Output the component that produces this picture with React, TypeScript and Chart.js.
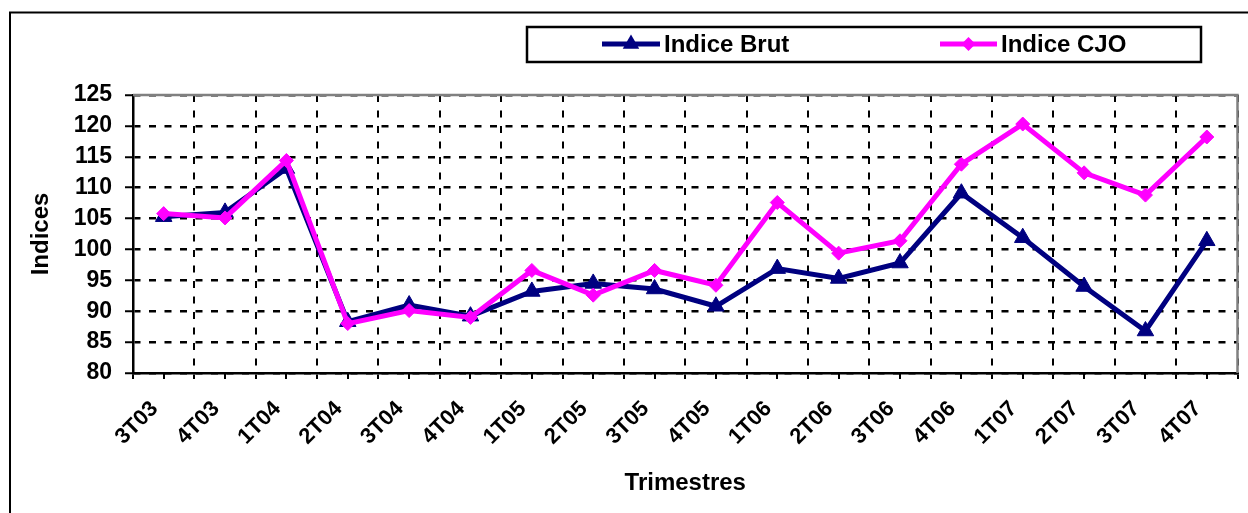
import React, { useEffect, useRef } from 'react';
import { Chart, registerables } from 'chart.js';

Chart.register(...registerables);

const categories = ['3T03', '4T03', '1T04', '2T04', '3T04', '4T04', '1T05', '2T05', '3T05', '4T05', '1T06', '2T06', '3T06', '4T06', '1T07', '2T07', '3T07', '4T07'];
const indiceBrut = [105.3, 106.0, 113.1, 88.3, 91.0, 89.2, 93.2, 94.5, 93.6, 90.8, 96.9, 95.3, 97.8, 109.1, 101.9, 94.0, 86.8, 101.4];
const indiceCJO = [105.8, 105.1, 114.4, 88.0, 90.1, 89.0, 96.6, 92.6, 96.6, 94.2, 107.6, 99.4, 101.4, 113.8, 120.3, 112.4, 108.8, 118.2];
const seriesLabels = ['Indice Brut', 'Indice CJO'];
const yMin = 80;
const yMax = 125;
const yStep = 5;
const xTitle = 'Trimestres';
const yTitle = 'Indices';

const FONT = "'Liberation Sans', Arial, sans-serif";
const NAVY = '#000080';
const MAGENTA = '#FF00FF';

const decorPlugin = {
  id: 'decor',
  beforeDraw(chart: any) {
    const ctx = chart.ctx;
    ctx.save();
    ctx.fillStyle = '#fff';
    ctx.fillRect(0, 0, chart.width, chart.height);
    ctx.restore();
  },
  beforeDatasetsDraw(chart: any) {
    const { ctx, chartArea: a } = chart;
    const xs = chart.scales.x;
    ctx.save();
    ctx.strokeStyle = '#808080';
    ctx.lineWidth = 2.5;
    ctx.beginPath();
    ctx.moveTo(a.left, a.top);
    ctx.lineTo(a.right, a.top);
    ctx.lineTo(a.right, a.bottom);
    ctx.stroke();
    ctx.strokeStyle = '#000';
    ctx.lineWidth = 2;
    ctx.beginPath();
    for (let i = 0; i < categories.length; i++) {
      const px = Math.round(xs.getPixelForValue(i));
      ctx.moveTo(px, a.bottom);
      ctx.lineTo(px, a.bottom + 6);
    }
    ctx.stroke();
    ctx.restore();
  },
  afterDraw(chart: any) {
    const ctx = chart.ctx;
    ctx.save();
    ctx.strokeStyle = '#000';
    ctx.lineWidth = 2;
    ctx.strokeRect(10, 12.5, 1300, 600);
    ctx.lineWidth = 2.5;
    ctx.strokeRect(527, 27, 674, 35);
    const items = [
      { x0: 602, x1: 660, tx: 664, ds: chart.data.datasets[1] },
      { x0: 940, x1: 997, tx: 1001, ds: chart.data.datasets[0] },
    ];
    const ly = 44;
    items.forEach((it) => {
      const ds = it.ds;
      ctx.strokeStyle = ds.borderColor;
      ctx.lineWidth = ds.borderWidth;
      ctx.beginPath();
      ctx.moveTo(it.x0, ly);
      ctx.lineTo(it.x1, ly);
      ctx.stroke();
      const cx = (it.x0 + it.x1) / 2;
      ctx.fillStyle = ds.pointBackgroundColor;
      ctx.beginPath();
      const r = ds.pointRadius;
      if (ds.pointStyle === 'triangle') {
        ctx.moveTo(cx, ly - r);
        ctx.lineTo(cx + r * 0.866, ly + r * 0.5);
        ctx.lineTo(cx - r * 0.866, ly + r * 0.5);
      } else {
        ctx.moveTo(cx, ly - r);
        ctx.lineTo(cx + r, ly);
        ctx.lineTo(cx, ly + r);
        ctx.lineTo(cx - r, ly);
      }
      ctx.closePath();
      ctx.fill();
      ctx.fillStyle = '#000';
      ctx.font = `bold 24px ${FONT}`;
      ctx.textAlign = 'left';
      ctx.textBaseline = 'middle';
      ctx.fillText(ds.label, it.tx, ly + 1);
    });
    ctx.restore();
  },
};

export default function App() {
  const ref = useRef<HTMLCanvasElement | null>(null);
  useEffect(() => {
    if (!ref.current) return;
    const chart = new Chart(ref.current, {
      type: 'line',
      data: {
        labels: categories,
        datasets: [
          {
            label: seriesLabels[1],
            data: indiceCJO,
            borderColor: MAGENTA,
            backgroundColor: MAGENTA,
            pointBackgroundColor: MAGENTA,
            pointBorderColor: MAGENTA,
            borderWidth: 5,
            pointStyle: 'rectRot',
            pointRadius: 7,
            pointBorderWidth: 1,
            tension: 0,
            order: 0,
          },
          {
            label: seriesLabels[0],
            data: indiceBrut,
            borderColor: NAVY,
            backgroundColor: NAVY,
            pointBackgroundColor: NAVY,
            pointBorderColor: NAVY,
            borderWidth: 5,
            pointStyle: 'triangle',
            pointRadius: 9.5,
            pointBorderWidth: 1,
            tension: 0,
            order: 1,
          },
        ],
      },
      options: {
        animation: false,
        responsive: false,
        maintainAspectRatio: false,
        layout: { padding: { left: 0, top: 95, right: 2, bottom: 0 } },
        plugins: {
          legend: { display: false },
          tooltip: { enabled: false },
        },
        scales: {
          x: {
            type: 'category',
            offset: true,
            afterFit: (s: any) => { s.height = 140; },
            grid: {
              offset: true,
              color: '#000',
              lineWidth: 2,
              drawTicks: true,
              tickLength: 6,
              tickColor: '#000',
              tickWidth: 2,
              tickBorderDash: [],
            },
            border: { display: true, color: '#000', width: 2.5, dash: [7, 8.5], dashOffset: 0 },
            ticks: {
              autoSkip: false,
              minRotation: 45,
              maxRotation: 45,
              color: '#000',
              padding: 17,
              labelOffset: -9,
              font: { family: FONT, size: 22, weight: 'bold' },
            },
            title: {
              display: true,
              text: xTitle,
              color: '#000',
              padding: { top: 0, bottom: 15 },
              font: { family: FONT, size: 24, weight: 'bold' },
            },
          },
          y: {
            min: yMin,
            max: yMax,
            afterFit: (s: any) => { s.width = 133; },
            grid: {
              color: '#000',
              lineWidth: 2.5,
              drawTicks: true,
              tickLength: 8,
              tickColor: '#000',
              tickWidth: 2,
              tickBorderDash: [],
            },
            border: { display: true, color: '#000', width: 2.5, dash: [7, 8.5], dashOffset: 1 },
            ticks: {
              stepSize: yStep,
              color: '#000',
              padding: 13,
              font: { family: FONT, size: 23, weight: 'bold' },
            },
            title: {
              display: true,
              text: yTitle,
              color: '#000',
              padding: { top: 27, bottom: 0 },
              font: { family: FONT, size: 24, weight: 'bold' },
            },
          },
        },
      },
      plugins: [decorPlugin],
    } as any);
    return () => chart.destroy();
  }, []);
  return (
    <div style={{ position: 'fixed', left: 0, top: 0, width: 1248, height: 513 }}>
      <canvas ref={ref} width={1248} height={513} style={{ display: 'block', width: 1248, height: 513 }} />
    </div>
  );
}
